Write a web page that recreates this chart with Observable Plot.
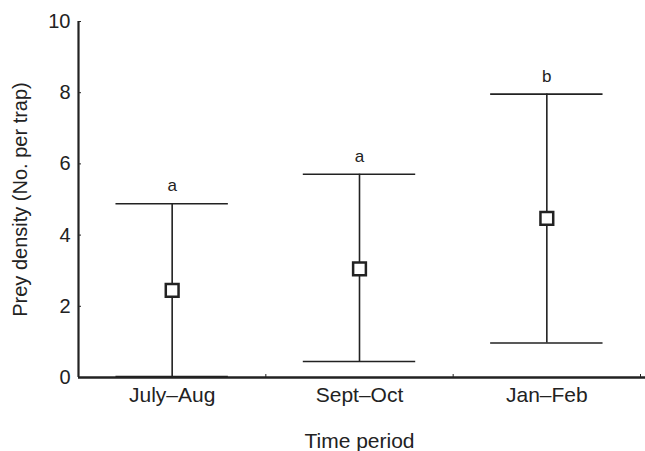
<!DOCTYPE html>
<html>
<head>
<meta charset="utf-8">
<script src="https://cdn.jsdelivr.net/npm/d3@7"></script>
<script src="https://cdn.jsdelivr.net/npm/@observablehq/plot@0.6"></script>
<style>
  html, body { margin: 0; padding: 0; background: #fff; }
  svg { display: block; }
</style>
</head>
<body>
<div id="chart"></div>
<script>
const periods = ["July–Aug", "Sept–Oct", "Jan–Feb"];
const means = [2.45, 3.05, 4.47];
const lowers = [0.03, 0.45, 0.97];
const uppers = [4.88, 5.71, 7.96];
const letters = ["a", "a", "b"];
const yTicks = [0, 2, 4, 6, 8, 10];

const data = periods.map((p, i) => ({
  period: p,
  pos: i + 0.5,
  mean: means[i],
  lower: lowers[i],
  upper: uppers[i],
  letter: letters[i]
}));

const ink = "#222";
const capHalf = 0.3;

const chart = Plot.plot({
  width: 645,
  height: 451,
  marginLeft: 78,
  marginRight: 5,
  marginTop: 21,
  marginBottom: 74,
  style: { fontFamily: "'Liberation Sans', Arial, sans-serif", color: ink, background: "#fff" },
  x: { domain: [0, periods.length], axis: null },
  y: { domain: [0, 10], axis: null },
  marks: [
    Plot.axisY({
      ticks: yTicks, tickSize: -3, tickPadding: 11, fontSize: 20,
      label: "Prey density (No. per trap)", labelAnchor: "center", labelOffset: 66, labelArrow: "none"
    }),
    Plot.axisX({
      ticks: periods.map((_, i) => i + 0.5), tickSize: 0, tickPadding: 10, fontSize: 21,
      tickFormat: v => periods[Math.floor(v)],
      label: "Time period", labelAnchor: "center", labelOffset: 70, labelArrow: "none"
    }),
    Plot.axisX({
      ticks: periods.map((_, i) => i + 1), tickSize: -3, tickFormat: () => "", label: null
    }),
    Plot.ruleX(data, { x: "pos", y1: "lower", y2: "upper", stroke: ink, strokeWidth: 1.6 }),
    Plot.ruleY(data, { y: "upper", x1: d => d.pos - capHalf, x2: d => d.pos + capHalf, stroke: ink, strokeWidth: 1.6 }),
    Plot.ruleY(data, { y: "lower", x1: d => d.pos - capHalf, x2: d => d.pos + capHalf, stroke: ink, strokeWidth: 1.6 }),
    Plot.dot(data, { x: "pos", y: "mean", symbol: "square", r: 7.2, fill: "white", stroke: ink, strokeWidth: 2.5 }),
    Plot.text(data, { x: "pos", y: "upper", text: "letter", dy: -18, fontSize: 17, fill: ink }),
    Plot.ruleX([0], { stroke: ink, strokeWidth: 2.2 }),
    Plot.ruleY([0], { stroke: ink, strokeWidth: 2.4, insetRight: -5 })
  ]
});

document.getElementById("chart").appendChild(chart);
</script>
</body>
</html>
